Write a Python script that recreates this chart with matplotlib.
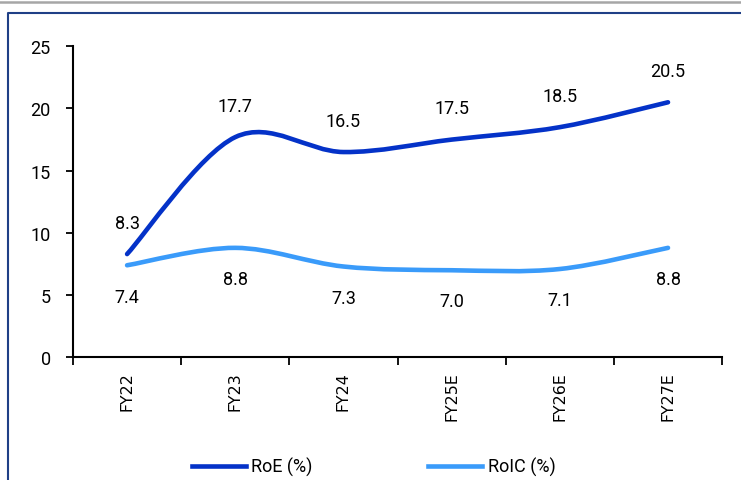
import matplotlib

matplotlib.use("Agg")

import matplotlib.pyplot as plt
import numpy as np
from matplotlib.lines import Line2D
from matplotlib.patches import PathPatch
from matplotlib.path import Path

# Data
years = ["FY22", "FY23", "FY24", "FY25E", "FY26E", "FY27E"]
roe = [8.3, 17.7, 16.5, 17.5, 18.5, 20.5]
roic = [7.4, 8.8, 7.3, 7.0, 7.1, 8.8]
y_ticks = [0, 5, 10, 15, 20, 25]

ROE_COLOR = "#0432C8"
ROIC_COLOR = "#3A9BFA"
FRAME_COLOR = "#1F3F86"
RULE_COLOR = "#A6A6A6"
FONT = ["Roboto", "DejaVu Sans"]
LINE_W = 3.3


def smooth_path(xs, ys):
    """Excel-like smoothed line: Catmull-Rom converted to cubic Bezier segments."""
    pts = np.column_stack([xs, ys]).astype(float)
    n = len(pts)
    verts = [pts[0]]
    codes = [Path.MOVETO]
    for i in range(n - 1):
        p0 = pts[max(i - 1, 0)]
        p1 = pts[i]
        p2 = pts[i + 1]
        p3 = pts[min(i + 2, n - 1)]
        verts += [p1 + (p2 - p0) / 6, p2 - (p3 - p1) / 6, p2]
        codes += [Path.CURVE4] * 3
    return Path(verts, codes)


fig = plt.figure(figsize=(7.41, 4.81), dpi=100)
ax = fig.add_axes([0.0985, 0.255, 0.876, 0.6467])

x = np.arange(len(years))
for vals, color in ((roe, ROE_COLOR), (roic, ROIC_COLOR)):
    ax.add_patch(
        PathPatch(smooth_path(x, vals), fill=False, edgecolor=color, linewidth=LINE_W, capstyle="round")
    )

for i, v in enumerate(roe):
    ax.annotate(f"{v:.1f}", (x[i], v), xytext=(0, 22.5), textcoords="offset points",
                ha="center", va="center", fontsize=13, family=FONT)
for i, v in enumerate(roic):
    ax.annotate(f"{v:.1f}", (x[i], v), xytext=(0, -22.5), textcoords="offset points",
                ha="center", va="center", fontsize=13, family=FONT)

ax.set_xlim(-0.5, len(years) - 0.5)
ax.set_ylim(0, 25)

# category labels between boundary ticks
ax.set_xticks(np.arange(len(years) + 1) - 0.5)
ax.set_xticklabels([])
ax.set_xticks(x, minor=True)
ax.set_xticklabels(years, minor=True, rotation=90, fontsize=11.4, family="DejaVu Sans")
ax.tick_params(axis="x", which="major", direction="out", length=6, width=1.3)
ax.tick_params(axis="x", which="minor", length=0, pad=10)

ax.set_yticks(y_ticks)
ax.set_yticklabels([str(t) for t in y_ticks], fontsize=13, family=FONT)
ax.tick_params(axis="y", direction="out", length=5, width=1.3, pad=11)

for side in ("top", "right"):
    ax.spines[side].set_visible(False)
for side in ("left", "bottom"):
    ax.spines[side].set_linewidth(1.5)
    ax.spines[side].set_color("black")

handles = [
    Line2D([0], [0], color=ROE_COLOR, linewidth=LINE_W, label="RoE (%)"),
    Line2D([0], [0], color=ROIC_COLOR, linewidth=LINE_W, label="RoIC (%)"),
]
fig.legend(handles=handles, loc="center", bbox_to_anchor=(0.504, 0.028), ncol=2,
           frameon=False, prop={"family": FONT, "size": 13}, handlelength=3.0,
           handletextpad=0.3, columnspacing=6.4)

# page decorations: grey rule and blue frame
fig.add_artist(Line2D([0, 1], [1 - 3 / 481, 1 - 3 / 481], transform=fig.transFigure,
                      color=RULE_COLOR, linewidth=1.8))
fig.add_artist(Line2D([8 / 741, 8 / 741, 1], [0, 1 - 14 / 481, 1 - 14 / 481],
                      transform=fig.transFigure, color=FRAME_COLOR, linewidth=1.5))

fig.savefig("out.png", dpi=100)
